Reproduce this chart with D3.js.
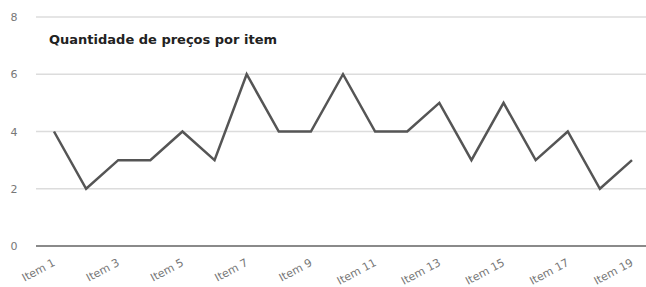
<!DOCTYPE html>
<html><head><meta charset="utf-8">
<script src="https://cdn.jsdelivr.net/npm/d3@7"></script>
<style>body{margin:0;background:#fff}svg{display:block}</style>
</head><body>
<svg id="c" width="646" height="287"></svg>
<script>
const categories = ["Item 1","Item 2","Item 3","Item 4","Item 5","Item 6","Item 7","Item 8","Item 9","Item 10","Item 11","Item 12","Item 13","Item 14","Item 15","Item 16","Item 17","Item 18","Item 19"];
const values = [4,2,3,3,4,3,6,4,4,6,4,4,5,3,5,3,4,2,3];
const yTicks = [0,2,4,6,8];
const xTickLabels = ["Item 1","Item 3","Item 5","Item 7","Item 9","Item 11","Item 13","Item 15","Item 17","Item 19"];
const title = "Quantidade de preços por item";

const svg = d3.select("#c");
const x = d3.scalePoint().domain(categories).range([54, 632]);
const y = d3.scaleLinear().domain([0, 8]).range([246, 17]);

// grid
svg.append("g").selectAll("line").data(yTicks).join("line")
  .attr("x1", 36).attr("x2", 646)
  .attr("y1", d => y(d)).attr("y2", d => y(d))
  .attr("stroke", d => d === 0 ? "#8a8a8a" : "#dcdcdc")
  .attr("stroke-width", d => d === 0 ? 2 : 1.5);

// y labels
svg.append("g").selectAll("text").data(yTicks).join("text")
  .attr("x", 14).attr("y", d => y(d) + 4)
  .attr("text-anchor", "middle")
  .attr("font-family", "DejaVu Sans, sans-serif")
  .attr("font-size", 11).attr("fill", "#777")
  .text(d => d);

// x labels
svg.append("g").selectAll("text").data(xTickLabels).join("text")
  .attr("transform", d => `translate(${x(d) + 2},${265}) rotate(-28)`)
  .attr("text-anchor", "end")
  .attr("font-family", "DejaVu Sans, sans-serif")
  .attr("font-size", 11).attr("fill", "#777")
  .text(d => d);

// line
const line = d3.line().x((d, i) => x(categories[i])).y(d => y(d));
svg.append("path").datum(values)
  .attr("d", line)
  .attr("fill", "none").attr("stroke", "#555").attr("stroke-width", 2.5)
  .attr("stroke-linejoin", "miter");

// title
svg.append("text").attr("x", 49).attr("y", 44)
  .attr("font-family", "DejaVu Sans, sans-serif")
  .attr("font-size", 13).attr("font-weight", "bold").attr("fill", "#222")
  .text(title);
</script>
</body></html>
